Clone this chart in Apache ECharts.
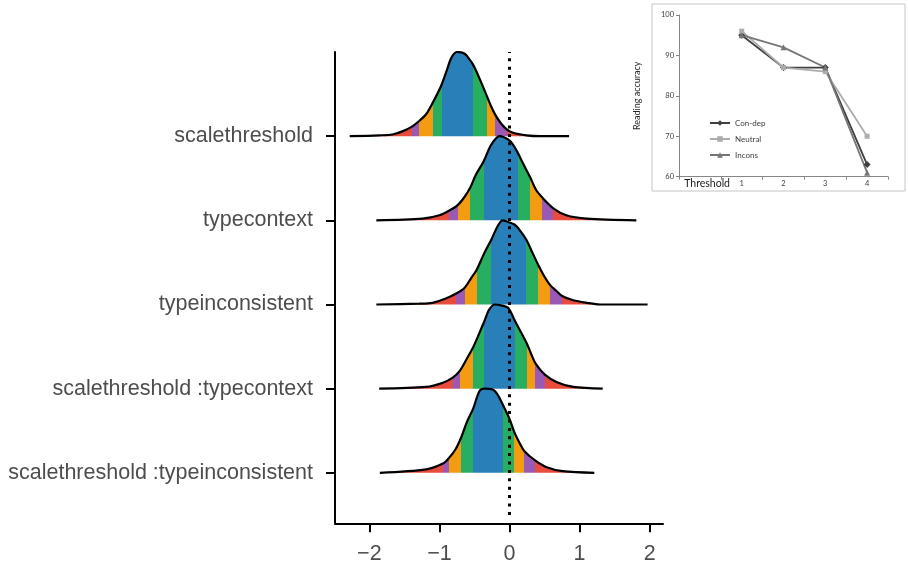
<!DOCTYPE html>
<html>
<head>
<meta charset="utf-8">
<script src="https://cdn.jsdelivr.net/npm/echarts@6/dist/echarts.min.js"></script>
<style>
html, body { margin: 0; padding: 0; background: #fff; }
#chart { width: 908px; height: 568px; }
</style>
</head>
<body>
<div id="chart"></div>
<script>
// 行名（从上到下）
var ridgeNames = ['scalethreshold', 'typecontext', 'typeinconsistent', 'scalethreshold :typecontext', 'scalethreshold :typeinconsistent'];
var xTicks = [-2, -1, 0, 1, 2];

// 密度曲线（高度以行间距为单位，读图所得）
var xScale = [-2.28, -1.86, -1.67, -1.52, -1.38, -1.29, -1.19, -1.10, -0.98, -0.90, -0.83, -0.75, -0.64, -0.57, -0.52, -0.43, -0.33, -0.26, -0.20, -0.12, -0.04, 0.05, 0.24, 0.43, 0.85];
var hScale = [0, 0.01, 0.02, 0.06, 0.12, 0.18, 0.26, 0.39, 0.59, 0.77, 0.93, 1.0, 0.98, 0.91, 0.85, 0.69, 0.49, 0.35, 0.25, 0.15, 0.08, 0.04, 0.01, 0, 0];
var bandScale = [-1.39, -1.29, -1.09, -0.97, -0.52, -0.32, -0.20, -0.04];

var xContext = [-1.90, -1.24, -1.00, -0.87, -0.74, -0.64, -0.56, -0.48, -0.37, -0.26, -0.14, -0.02, 0.05, 0.12, 0.19, 0.29, 0.38, 0.48, 0.63, 0.81, 1.10, 1.81];
var hContext = [0, 0.02, 0.06, 0.11, 0.18, 0.28, 0.39, 0.54, 0.70, 0.90, 1.0, 0.96, 0.90, 0.80, 0.68, 0.52, 0.36, 0.26, 0.14, 0.06, 0.02, 0];
var bandContext = [-0.87, -0.74, -0.56, -0.37, 0.12, 0.29, 0.47, 0.62];

var xIncons = [-1.90, -1.29, -1.10, -0.91, -0.76, -0.64, -0.55, -0.47, -0.36, -0.26, -0.17, -0.10, -0.02, 0.07, 0.14, 0.24, 0.33, 0.41, 0.50, 0.58, 0.67, 0.75, 0.91, 1.10, 1.29, 1.97];
var hIncons = [0, 0.01, 0.02, 0.07, 0.13, 0.20, 0.31, 0.41, 0.61, 0.77, 0.93, 1.0, 0.98, 0.95, 0.89, 0.77, 0.61, 0.47, 0.33, 0.23, 0.16, 0.10, 0.05, 0.02, 0, 0];
var bandIncons = [-0.76, -0.64, -0.47, -0.26, 0.24, 0.41, 0.58, 0.75];

var xScaleContext = [-1.86, -1.19, -0.95, -0.81, -0.71, -0.60, -0.52, -0.43, -0.36, -0.29, -0.21, -0.12, -0.02, 0.08, 0.17, 0.25, 0.31, 0.37, 0.50, 0.67, 0.91, 1.33];
var hScaleContext = [0, 0.02, 0.07, 0.13, 0.21, 0.37, 0.49, 0.66, 0.80, 0.94, 1.0, 0.99, 0.96, 0.80, 0.66, 0.53, 0.41, 0.30, 0.17, 0.08, 0.02, 0];
var bandScaleContext = [-0.81, -0.71, -0.52, -0.36, 0.08, 0.25, 0.37, 0.50];

var xScaleIncons = [-1.85, -1.19, -0.95, -0.87, -0.77, -0.69, -0.61, -0.52, -0.43, -0.36, -0.24, -0.17, -0.09, 0.00, 0.07, 0.14, 0.21, 0.36, 0.52, 0.76, 1.21];
var hScaleIncons = [0, 0.04, 0.11, 0.17, 0.28, 0.42, 0.60, 0.76, 0.97, 1.0, 0.99, 0.93, 0.80, 0.64, 0.48, 0.36, 0.26, 0.15, 0.07, 0.02, 0];
var bandScaleIncons = [-0.95, -0.87, -0.69, -0.52, -0.09, 0.07, 0.21, 0.36];

var bandColors = ['#E74C3C', '#9B59B6', '#F39C12', '#27AE60', '#2980B9', '#27AE60', '#F39C12', '#9B59B6', '#E74C3C'];

// 小图：阅读正确率
var thresholds = ['', '1', '2', '3', '4'];
var conDep = [null, 95, 87, 87, 63];
var neutral = [null, 96, 87, 86, 70];
var incons = [null, 95, 92, 87, 61];

var ridges = [
    [xScale, hScale, bandScale],
    [xContext, hContext, bandContext],
    [xIncons, hIncons, bandIncons],
    [xScaleContext, hScaleContext, bandScaleContext],
    [xScaleIncons, hScaleIncons, bandScaleIncons]
];

var myChart = echarts.init(document.getElementById('chart'));
var fontMain = '"Liberation Sans", Arial, sans-serif';
var fontInset = 'Lato, "Open Sans", sans-serif';

function makePieces(b) {
    var p = [{ lt: b[0], color: bandColors[0] }];
    for (var i = 0; i < b.length - 1; i++) {
        p.push({ gte: b[i], lt: b[i + 1], color: bandColors[i + 1] });
    }
    p.push({ gte: b[b.length - 1], color: bandColors[8] });
    return p;
}

var yAxes = [{
    type: 'value', gridIndex: 0, min: -0.6, max: 5.0,
    axisLine: { show: true, onZero: false, lineStyle: { color: '#000', width: 2 } },
    axisTick: { show: true, customValues: [0, 1, 2, 3, 4], length: 9, lineStyle: { color: '#000', width: 2 } },
    axisLabel: {
        customValues: [0, 1, 2, 3, 4], margin: 22, fontSize: 21.5, color: '#4d4d4d', fontFamily: fontMain,
        formatter: function (v) { return ridgeNames[4 - Math.round(v)]; }
    },
    splitLine: { show: false }
}];
var series = [];
var visualMaps = [];

ridges.forEach(function (r, i) {
    var k = 4 - i;
    yAxes.push({ type: 'value', gridIndex: 0, min: -0.6 - k, max: 5.0 - k, show: false });
    var data = r[0].map(function (x, j) { return [x, r[1][j]]; });
    series.push({
        type: 'line', name: ridgeNames[i], xAxisIndex: 0, yAxisIndex: 1 + i,
        data: data, smooth: 0.3, symbol: 'none', silent: true,
        lineStyle: { color: '#000', width: 2.2 },
        areaStyle: { opacity: 1 },
        z: 2 + i
    });
    visualMaps.push({
        type: 'piecewise', show: false, dimension: 0, seriesIndex: i,
        pieces: makePieces(r[2])
    });
});

// 0 处的虚线
series.push({
    type: 'line', xAxisIndex: 0, yAxisIndex: 0, data: [[0, -0.5], [0, 5.0]],
    symbol: 'none', silent: true, z: 20,
    lineStyle: { color: '#000', width: 3, type: [3, 5.4] }
});

yAxes.push({
    type: 'value', gridIndex: 1, min: 60, max: 100, interval: 10,
    axisLine: { show: true, lineStyle: { color: '#868686', width: 1 } },
    axisTick: { show: true, length: 3, lineStyle: { color: '#868686' } },
    axisLabel: { fontSize: 7.5, color: '#404040', margin: 5, fontFamily: fontInset },
    splitLine: { show: false },
    name: 'Reading accuracy', nameLocation: 'middle', nameGap: 37,
    nameTextStyle: { fontSize: 9, color: '#262626', fontFamily: fontInset }
});

var insetStyle = [
    ['Con-dep', conDep, 'diamond', 7, '#3f3f3f'],
    ['Neutral', neutral, 'rect', 5, '#acacac'],
    ['Incons', incons, 'triangle', 6, '#767676']
];
insetStyle.forEach(function (s) {
    series.push({
        type: 'line', name: s[0], xAxisIndex: 1, yAxisIndex: 6, data: s[1],
        symbol: s[2], symbolSize: s[3], showSymbol: true,
        lineStyle: { color: s[4], width: 1.8 }, itemStyle: { color: s[4] }, z: 3
    });
});

var option = {
    animation: false,
    backgroundColor: '#fff',
    graphic: [{
        type: 'rect', z: -1, silent: true,
        shape: { x: 652, y: 4, width: 253, height: 187 },
        style: { fill: '#fff', stroke: '#c4c4c4', lineWidth: 1 }
    }],
    grid: [
        { left: 335, right: 245, top: 52, bottom: 44.7, containLabel: false, outerBoundsMode: 'none' },
        { left: 679, right: 20, top: 15, bottom: 391.3, containLabel: false, outerBoundsMode: 'none' }
    ],
    legend: {
        data: ['Con-dep', 'Neutral', 'Incons'], orient: 'vertical', left: 704, top: 114,
        itemWidth: 20, itemHeight: 7, itemGap: 8,
        textStyle: { fontSize: 8, color: '#404040', fontFamily: fontInset }
    },
    visualMap: visualMaps,
    xAxis: [{
        type: 'value', gridIndex: 0, min: -2.49, max: 2.19,
        axisLine: { show: true, onZero: false, lineStyle: { color: '#000', width: 2 } },
        axisTick: { show: true, customValues: xTicks, length: 9, lineStyle: { color: '#000', width: 2 } },
        axisLabel: {
            customValues: xTicks, margin: 20, fontSize: 21.5, color: '#4d4d4d', fontFamily: fontMain,
            formatter: function (v) { return v < 0 ? '\u2212' + Math.abs(v) : String(v); }
        },
        splitLine: { show: false }
    }, {
        type: 'category', gridIndex: 1, data: thresholds, boundaryGap: true,
        axisLine: { lineStyle: { color: '#868686', width: 1 } },
        axisTick: { show: true, length: 3, lineStyle: { color: '#868686' } },
        axisLabel: { fontSize: 7.5, color: '#404040', margin: 3, fontFamily: fontInset },
        name: 'Threshold', nameLocation: 'start', nameGap: -51, nameMoveOverlap: false,
        nameTextStyle: { fontSize: 10.5, color: '#1a1a1a', fontFamily: fontInset, verticalAlign: 'top', padding: [1, 0, 0, 0] }
    }],
    yAxis: yAxes,
    series: series
};

myChart.setOption(option);
window.onresize = myChart.resize;
</script>
</body>
</html>
